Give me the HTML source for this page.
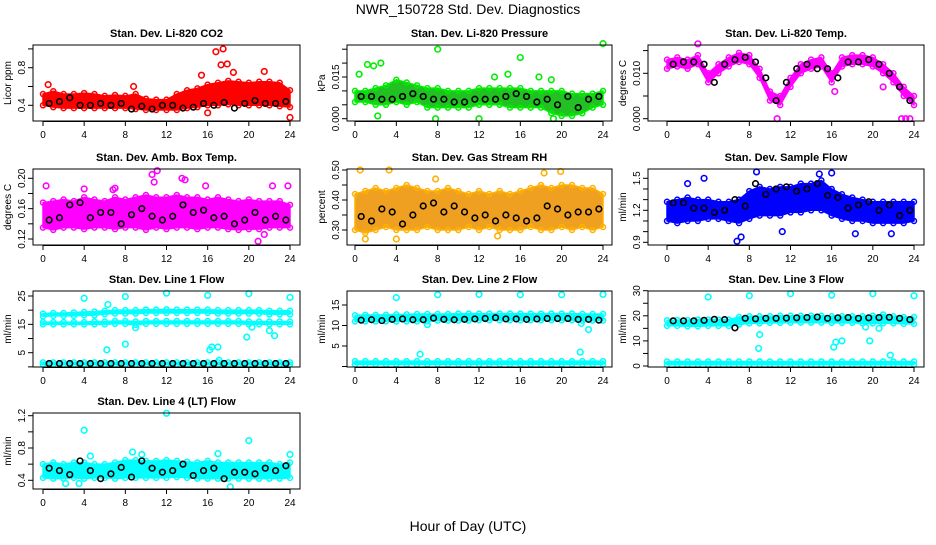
<!DOCTYPE html>
<html><head><meta charset="utf-8"><style>
body{margin:0;background:#fff}
svg text{font-family:"Liberation Sans",sans-serif}
</style></head><body>
<svg id="c" width="936" height="540" xmlns="http://www.w3.org/2000/svg">
<text x="468" y="14" text-anchor="middle" font-size="14">NWR_150728  Std. Dev. Diagnostics</text>
<text x="468" y="531" text-anchor="middle" font-size="14">Hour of Day (UTC)</text>
</svg>
<script>
const H=[0,1,2,3,4,5,6,7,8,9,10,11,12,13,14,15,16,17,18,19,20,21,22,23,24];
const BX=[0.6,1.6,2.6,3.6,4.6,5.6,6.6,7.6,8.6,9.6,10.6,11.6,12.6,13.6,14.6,15.6,16.6,17.6,18.6,19.6,20.6,21.6,22.6,23.6];
const xTicks=[0,4,8,12,16,20,24];

const co2Lo=[.40,.38,.37,.37,.37,.37,.37,.37,.37,.36,.35,.35,.35,.35,.37,.38,.40,.40,.41,.40,.40,.40,.40,.39,.38];
const co2Hi=[.52,.55,.52,.52,.53,.52,.50,.51,.50,.52,.47,.46,.46,.52,.56,.58,.62,.64,.66,.65,.64,.65,.65,.64,.56];
const co2OX=[0.5,8.8,16.8,17.5,17.3,17.9,18.5,21.5,16,24,15.4];
const co2OY=[.62,.60,.97,1.0,.83,.84,.75,.76,.32,.27,.72];
const co2Black=[.42,.44,.48,.40,.40,.42,.40,.42,.36,.39,.36,.40,.40,.37,.38,.42,.40,.43,.37,.42,.45,.42,.42,.44];

const prLo=[.006,.006,.005,.005,.006,.005,.006,.004,.004,.004,.004,.004,.005,.005,.005,.004,.004,.004,.004,.002,.001,.001,.002,.004,.005];
const prHi=[.010,.010,.011,.012,.014,.013,.012,.011,.011,.010,.010,.010,.011,.011,.011,.011,.011,.010,.010,.010,.010,.009,.009,.009,.010];
const prOX=[0.4,1.2,1.8,2.5,8,16,24,13.5,14.8,17.8,19,2.2,7.8,12,19.2];
const prOY=[.016,.0195,.019,.020,.025,.022,.027,.015,.016,.015,.014,.001,0,0,0];
const prBlack=[.008,.008,.007,.007,.008,.009,.008,.007,.007,.006,.006,.007,.007,.007,.008,.009,.008,.006,.007,.005,.008,.004,.007,.008];

const tLo=[.011,.0115,.011,.012,.008,.010,.0115,.0125,.012,.009,.004,.003,.007,.010,.011,.0115,.008,.0115,.012,.012,.0115,.010,.008,.005,.003];
const tHi=[.013,.0135,.013,.014,.010,.012,.0135,.0145,.014,.011,.006,.005,.009,.012,.013,.0135,.010,.0135,.014,.014,.0135,.012,.010,.007,.005];
const tOX=[22.8,23.2,23.6,3,16.3,21,10.7];
const tOY=[0,0,0,.0165,.006,.007,0];
const tBlack=[.012,.0125,.0125,.012,.008,.012,.013,.0135,.0125,.009,.004,.008,.011,.012,.011,.011,.009,.0125,.0125,.013,.012,.010,.007,.004];

const abLo=[.135,.132,.135,.135,.133,.135,.135,.133,.135,.135,.132,.135,.133,.135,.135,.133,.135,.135,.133,.132,.133,.133,.135,.135,.135];
const abHi=[.168,.17,.172,.17,.175,.172,.17,.175,.172,.175,.178,.175,.175,.178,.175,.175,.172,.175,.172,.17,.172,.17,.17,.17,.165];
const abOX=[0.3,10.6,11.1,10.8,13.5,13.8,4,15.8,20.9,21.5,22.3,6.8,23.8,7];
const abOY=[.19,.205,.21,.195,.20,.198,.186,.19,.117,.126,.19,.185,.19,.187];
const abBlack=[.145,.148,.165,.168,.148,.155,.155,.14,.152,.16,.15,.145,.15,.165,.155,.158,.148,.15,.14,.145,.155,.145,.15,.145];

const rhLo=[.30,.29,.30,.31,.30,.30,.30,.31,.30,.30,.30,.31,.30,.31,.30,.30,.30,.31,.30,.30,.31,.30,.31,.30,.31];
const rhHi=[.42,.43,.44,.43,.44,.45,.44,.43,.43,.44,.43,.42,.43,.42,.43,.42,.43,.44,.45,.44,.45,.45,.44,.44,.42];
const rhOX=[0.5,3.3,1,7.8,4,18.3,19.9,13.8];
const rhOY=[.50,.50,.27,.47,.27,.49,.495,.28];
const rhBlack=[.345,.33,.37,.36,.32,.35,.38,.39,.36,.38,.36,.34,.35,.33,.35,.34,.33,.34,.38,.37,.35,.36,.36,.37];

const sfLo=[1.1,1.08,1.1,1.1,1.12,1.12,1.1,1.08,1.12,1.15,1.15,1.15,1.18,1.18,1.2,1.2,1.15,1.12,1.1,1.1,1.08,1.08,1.08,1.08,1.1];
const sfHi=[1.28,1.3,1.32,1.3,1.3,1.28,1.28,1.3,1.38,1.42,1.4,1.42,1.42,1.45,1.45,1.48,1.4,1.35,1.32,1.3,1.28,1.28,1.28,1.28,1.28];
const sfOX=[6.8,7.2,8.7,3.6,14.8,16,2,11.2,18.3,21.8];
const sfOY=[.91,.95,1.56,1.5,1.54,1.55,1.45,1.0,.98,.98];
const sfBlack=[1.27,1.27,1.22,1.22,1.18,1.2,1.3,1.24,1.45,1.35,1.4,1.42,1.38,1.4,1.45,1.34,1.32,1.22,1.25,1.28,1.2,1.25,1.15,1.2];

const l1aLo=[17.8,18,18,18,18.2,18.2,18.6,18.8,18.8,18.8,19,19,19,19,19,19,19,18.8,18.8,18.8,18.8,18.8,18.5,18.5,18.5];
const l1aHi=[18.8,19,19,19.2,19.4,19.5,19.8,20,20,20,20.2,20.2,20.3,20.2,20.2,20.2,20.2,20,20,20,20,20,19.8,19.8,19.8];
const l1bLo=[15,15,15,15,15,15,15,15.2,15.2,14.8,15.2,15.2,15.2,15.2,15.2,15.2,15.2,15.2,15.2,15.2,15,15,15,15,15];
const l1bHi=[15.8,15.8,15.8,15.8,15.8,16,16,16.2,16.2,16,16.2,16.2,16.2,16.2,16.2,16.2,16.2,16.2,16.2,16.2,16,16,16,16,16];
const l1cLo=[0.8,0.8,0.8,0.8,0.8,0.8,0.8,0.8,0.8,0.8,0.8,0.8,0.8,0.8,0.8,0.8,0.8,0.8,0.8,0.8,0.8,0.8,0.8,0.8,0.8];
const l1cHi=[1.6,1.6,1.6,1.6,1.6,1.6,1.6,1.6,1.6,1.6,1.6,1.6,1.6,1.6,1.6,1.6,1.6,1.6,1.6,1.6,1.6,1.6,1.6,1.6,1.6];
const l1OX=[4,6.3,8,12,16,20,24,6.2,9,8,16.2,16.4,17,19.8,22,22.5,17.1,20.3];
const l1OY=[24.2,22,24.8,26,25.2,25.8,24.5,6,13.8,8,6,7,7,10.5,12.8,11,2.3,14];
const l1Black=[1.2,1.2,1.2,1.2,1.2,1.2,1.2,1.2,1.2,1.2,1.2,1.2,1.2,1.2,1.2,1.2,1.2,1.2,1.2,1.2,1.2,1.2,1.2,1.2];

const l2aLo=[11,11,11,11,11,11,11,11,11.2,11.2,11.2,11.2,11.3,11.3,11.3,11.3,11.3,11.3,11.3,11.3,11.3,11.3,11.2,11.2,11.2];
const l2aHi=[12.5,12.6,12.6,12.6,12.7,12.7,12.8,12.8,12.8,12.8,12.9,12.9,12.9,12.9,12.9,12.9,12.9,12.9,12.9,12.9,12.9,12.9,12.8,12.8,12.8];
const l2bLo=[0.5,0.5,0.5,0.5,0.5,0.5,0.5,0.5,0.5,0.5,0.5,0.5,0.5,0.5,0.5,0.5,0.5,0.5,0.5,0.5,0.5,0.5,0.5,0.5,0.5];
const l2bHi=[1.3,1.3,1.3,1.3,1.3,1.3,1.3,1.3,1.3,1.3,1.3,1.3,1.3,1.3,1.3,1.3,1.3,1.3,1.3,1.3,1.3,1.3,1.3,1.3,1.3];
const l2OX=[4,8,12,16,20,24,6.3,21.8,22.6,21.9,7];
const l2OY=[16.8,17.5,17.6,17.5,17.5,17.6,3,3.5,9,10.5,10.2];
const l2Black=[11.3,11.4,11.2,11.5,11.6,11.4,11.4,11.8,11.5,11.4,11.5,11.6,11.7,11.9,11.6,11.6,11.5,11.6,11.7,11.7,11.7,11.5,11.5,11.3];

const l3aLo=[16,16,15.8,15.8,16,16,16,16.5,17,17,17.2,17.2,17.3,17.3,17.3,17.3,17.2,17.2,17.2,17,17,17,17,16.8,16.8];
const l3aHi=[18.2,18.3,18.3,18.5,18.5,18.5,18.5,19.5,19.8,19.8,19.8,20,20,20,20,20,19.8,19.8,19.8,19.8,20,20.5,19.8,19.5,19.5];
const l3bLo=[0.5,0.5,0.5,0.5,0.5,0.5,0.5,0.5,0.5,0.5,0.5,0.5,0.5,0.5,0.5,0.5,0.5,0.5,0.5,0.5,0.5,0.5,0.5,0.5,0.5];
const l3bHi=[1.8,1.8,1.8,1.8,1.8,1.8,1.8,1.8,1.8,1.8,1.8,1.8,1.8,1.8,1.8,1.8,1.8,1.8,1.8,1.8,1.8,1.8,1.8,1.8,1.8];
const l3OX=[4,8,12,16,20,24,9,8.9,16.2,16.4,17,19.7,21.7,19.3,20.6];
const l3OY=[27.5,28,28.8,28.2,28.8,28,12.5,7,7.5,9.5,10,10,4.3,15.5,15];
const l3Black=[18,18,18,18.2,18.6,18.5,15.2,19,18.8,19,19,19.1,19.2,19.3,19.5,19,19.2,19.3,19,19.2,19.3,19.4,19,18.5];

const l4Lo=[.43,.42,.42,.43,.42,.43,.43,.42,.43,.43,.43,.43,.43,.44,.43,.42,.42,.42,.42,.42,.42,.42,.42,.42,.43];
const l4Hi=[.60,.62,.60,.62,.62,.60,.60,.62,.65,.65,.64,.64,.65,.64,.63,.62,.64,.62,.62,.62,.62,.62,.62,.60,.62];
const l4OX=[4,12,20,8.7,9.6,17,24,4.6,18.2,2.2,3.5];
const l4OY=[1.02,1.23,.89,.75,.72,.73,.72,.70,.32,.36,.36];
const l4Black=[.55,.52,.47,.64,.52,.42,.48,.56,.44,.64,.55,.5,.52,.6,.46,.52,.55,.42,.5,.5,.48,.55,.52,.58];

const svg=document.getElementById('c');
const NS='http://www.w3.org/2000/svg';
function mk(t,a,p){const e=document.createElementNS(NS,t);for(const k in a)e.setAttribute(k,a[k]);(p||svg).appendChild(e);return e;}

const cols=[{l:33,r:300,x0:43,x24:290},{l:347,r:612,x0:355,x24:603},{l:648,r:924,x0:667,x24:914}];
const rows=[45,169,291,413];const PH=76;

function panel(ci,ri,o){
  const c=cols[ci],top=rows[ri],bot=top+PH;
  const g=mk('g',{});
  
  
  const xs=h=>c.x0+(c.x24-c.x0)*h/24;
  const ys=v=>o.p0+(v-o.v0)*(o.p1-o.p0)/(o.v1-o.v0);
  const cx=(c.l+c.r)/2;
  const t=mk('text',{x:cx,y:top-8,'text-anchor':'middle','font-size':'11','font-weight':'bold'},g);t.textContent=o.title;
  
  
  const yt=mk('text',{transform:`translate(${c.l-22},${(top+bot)/2}) rotate(-90)`,'text-anchor':'middle','font-size':'10'},g);yt.textContent=o.ylab;
  
  
  const clip='clip'+ci+ri;
  const cp=mk('clipPath',{id:clip},g);mk('rect',{x:c.l,y:top-6,width:c.r-c.l,height:PH+12},cp);
  const pg=mk('g',{'clip-path':`url(#${clip})`},g);
  for(const b of o.bands){
    let d='';H.forEach((h,i)=>{d+=(i?'L':'M')+xs(h)+','+ys(b[1][i]);});
    for(let i=H.length-1;i>=0;i--)d+='L'+xs(H[i])+','+ys(b[0][i]);
    const band=mk('path',{d:d+'Z',fill:o.fill||o.col,stroke:o.col,'stroke-width':1.5,'stroke-linejoin':'round'},pg);
    
    
    H.forEach((h,i)=>{[b[0][i],b[1][i]].forEach(v=>{
      const p=mk('circle',{cx:xs(h),cy:ys(v),r:2.5,fill:'none',stroke:o.col,'stroke-width':1.5},pg);
      
      
    });});
  }
  o.ox.forEach((h,i)=>{
    const p=mk('circle',{cx:xs(h),cy:ys(o.oy[i]),r:2.8,fill:'none',stroke:o.col,'stroke-width':1.6},pg);
    
    
  });
  BX.forEach((h,i)=>{
    const p=mk('circle',{cx:xs(h),cy:ys(o.black[i]),r:2.8,fill:'none',stroke:'#000','stroke-width':1.6},pg);
    
    
  });
  mk('rect',{x:c.l,y:top,width:c.r-c.l,height:PH,fill:'none',stroke:'#000','stroke-width':1},g);
  mk('line',{x1:c.x0,x2:c.x24,y1:bot+0.5,y2:bot+0.5,stroke:'#000'},g);
  xTicks.forEach(h=>{
    mk('line',{x1:xs(h),x2:xs(h),y1:bot,y2:bot+5,stroke:'#000'},g);
    const tl=mk('text',{x:xs(h),y:bot+17,'text-anchor':'middle','font-size':'10'},g);tl.textContent=h;
    
    
  });
  o.yt.forEach(v=>{
    mk('line',{x1:c.l-5,x2:c.l,y1:ys(v),y2:ys(v),stroke:'#000'},g);
  });
  o.yl.forEach((s,i)=>{
    const y=ys(o.ylv[i]);
    const tl=mk('text',{transform:`translate(${c.l-8},${y}) rotate(-90)`,'text-anchor':'middle','font-size':'10'},g);tl.textContent=s;
    
    
  });
}

panel(0,0,{name:'co2-panel',title:'Stan. Dev. Li-820 CO2',ylab:'Licor ppm',col:'#ff0000',v0:.4,v1:.8,p0:105.3,p1:67.7,bands:[[co2Lo,co2Hi]],ox:co2OX,oy:co2OY,black:co2Black,yt:[.4,.6,.8,1.0],yl:['0.4','0.8'],ylv:[.4,.8]});
panel(1,0,{name:'pressure-panel',title:'Stan. Dev. Li-820 Pressure',ylab:'kPa',col:'#00ee00',fill:'#22c022',v0:0,v1:.015,p0:118.7,p1:77,bands:[[prLo,prHi]],ox:prOX,oy:prOY,black:prBlack,yt:[0,.005,.01,.015,.02,.025],yl:['0.000','0.015'],ylv:[0,.015]});
panel(2,0,{name:'temp-panel',title:'Stan. Dev. Li-820 Temp.',ylab:'degrees C',col:'#ff00ff',v0:0,v1:.01,p0:118.7,p1:73.3,bands:[[tLo,tHi]],ox:tOX,oy:tOY,black:tBlack,yt:[0,.005,.01,.015],yl:['0.000','0.010'],ylv:[0,.01]});
panel(0,1,{name:'amb-box-temp-panel',title:'Stan. Dev. Amb. Box Temp.',ylab:'degrees C',col:'#ff00ff',v0:.12,v1:.2,p0:239,p1:178.3,bands:[[abLo,abHi]],ox:abOX,oy:abOY,black:abBlack,yt:[.12,.14,.16,.18,.2],yl:['0.12','0.16','0.20'],ylv:[.12,.16,.2]});
panel(1,1,{name:'gas-rh-panel',title:'Stan. Dev. Gas Stream RH',ylab:'percent',col:'#ffb000',fill:'#f0a020',v0:.3,v1:.5,p0:230,p1:170,bands:[[rhLo,rhHi]],ox:rhOX,oy:rhOY,black:rhBlack,yt:[.3,.35,.4,.45,.5],yl:['0.30','0.40','0.50'],ylv:[.3,.4,.5]});
panel(2,1,{name:'sample-flow-panel',title:'Stan. Dev. Sample Flow',ylab:'ml/min',col:'#0000ff',v0:.9,v1:1.5,p0:242.3,p1:178.3,bands:[[sfLo,sfHi]],ox:sfOX,oy:sfOY,black:sfBlack,yt:[.9,1.0,1.1,1.2,1.3,1.4,1.5],yl:['0.9','1.2','1.5'],ylv:[.9,1.2,1.5]});
panel(0,2,{name:'line1-flow-panel',title:'Stan. Dev. Line 1 Flow',ylab:'ml/min',col:'#00ffff',v0:5,v1:25,p0:352.7,p1:296,bands:[[l1aLo,l1aHi],[l1bLo,l1bHi],[l1cLo,l1cHi]],ox:l1OX,oy:l1OY,black:l1Black,yt:[0,5,10,15,20,25],yl:['5','15','25'],ylv:[5,15,25]});
panel(1,2,{name:'line2-flow-panel',title:'Stan. Dev. Line 2 Flow',ylab:'ml/min',col:'#00ffff',v0:5,v1:15,p0:346,p1:305,bands:[[l2aLo,l2aHi],[l2bLo,l2bHi]],ox:l2OX,oy:l2OY,black:l2Black,yt:[0,5,10,15],yl:['5','10','15'],ylv:[5,10,15]});
panel(2,2,{name:'line3-flow-panel',title:'Stan. Dev. Line 3 Flow',ylab:'ml/min',col:'#00ffff',v0:0,v1:30,p0:366,p1:290.7,bands:[[l3aLo,l3aHi],[l3bLo,l3bHi]],ox:l3OX,oy:l3OY,black:l3Black,yt:[0,5,10,15,20,25,30],yl:['0','10','20','30'],ylv:[0,10,20,30]});
panel(0,3,{name:'line4-flow-panel',title:'Stan. Dev. Line 4 (LT) Flow',ylab:'ml/min',col:'#00ffff',v0:.4,v1:1.2,p0:480.3,p1:415.7,bands:[[l4Lo,l4Hi]],ox:l4OX,oy:l4OY,black:l4Black,yt:[.4,.6,.8,1.0,1.2],yl:['0.4','0.8','1.2'],ylv:[.4,.8,1.2]});
</script>
</body></html>
